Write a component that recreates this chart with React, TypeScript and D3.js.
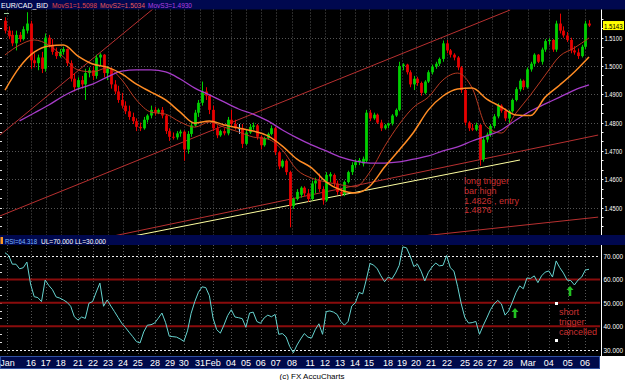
import React from 'react';
import * as d3 from 'd3';

// ---------- DATA ----------
// 6-hour bars: [open, high, low, close]
const candles: [number, number, number, number][] = [
  [1.5160,1.5172,1.5115,1.5125],[1.5125,1.5140,1.5095,1.5105],[1.5110,1.5125,1.5070,1.5080],[1.5080,1.5125,1.5055,1.5110],
  [1.5110,1.5120,1.5085,1.5095],[1.5095,1.5140,1.5090,1.5130],[1.5125,1.5190,1.5115,1.5150],[1.5150,1.5160,1.4990,1.5020],
  [1.5020,1.5045,1.4995,1.5010],[1.5010,1.5040,1.4985,1.5030],[1.5030,1.5050,1.4975,1.4990],[1.4990,1.5115,1.4980,1.5100],
  [1.5100,1.5110,1.5065,1.5075],[1.5075,1.5095,1.5040,1.5050],[1.5050,1.5065,1.5025,1.5035],[1.5035,1.5060,1.5030,1.5050],
  [1.5050,1.5068,1.5040,1.5060],[1.5060,1.5062,1.5000,1.5010],[1.5010,1.5020,1.4945,1.4955],[1.4955,1.4975,1.4910,1.4925],
  [1.4925,1.4960,1.4915,1.4950],[1.4950,1.4965,1.4920,1.4935],[1.4935,1.4990,1.4880,1.4975],[1.4975,1.4995,1.4960,1.4985],
  [1.4985,1.5000,1.4950,1.4965],[1.4965,1.5040,1.4955,1.5030],[1.5030,1.5045,1.5000,1.5040],[1.5040,1.5042,1.4960,1.4975],
  [1.4975,1.5000,1.4950,1.4990],[1.4990,1.4995,1.4920,1.4935],[1.4935,1.4950,1.4900,1.4910],[1.4910,1.4930,1.4870,1.4880],
  [1.4880,1.4905,1.4850,1.4860],[1.4860,1.4875,1.4830,1.4840],[1.4840,1.4860,1.4810,1.4820],[1.4820,1.4835,1.4795,1.4805],
  [1.4805,1.4815,1.4770,1.4785],[1.4785,1.4800,1.4770,1.4780],[1.4780,1.4820,1.4775,1.4810],[1.4810,1.4830,1.4800,1.4825],
  [1.4825,1.4860,1.4815,1.4845],[1.4845,1.4855,1.4825,1.4835],[1.4835,1.4850,1.4830,1.4845],[1.4845,1.4855,1.4815,1.4825],
  [1.4825,1.4830,1.4760,1.4770],[1.4770,1.4780,1.4735,1.4750],[1.4750,1.4765,1.4740,1.4748],[1.4748,1.4770,1.4740,1.4762],
  [1.4762,1.4775,1.4750,1.4768],[1.4768,1.4772,1.4665,1.4705],[1.4705,1.4770,1.4690,1.4760],[1.4760,1.4800,1.4750,1.4790],
  [1.4790,1.4845,1.4785,1.4835],[1.4835,1.4880,1.4820,1.4870],[1.4870,1.4945,1.4860,1.4910],[1.4910,1.4925,1.4880,1.4895],
  [1.4895,1.4900,1.4830,1.4845],[1.4845,1.4860,1.4770,1.4780],[1.4780,1.4790,1.4745,1.4755],[1.4755,1.4775,1.4750,1.4770],
  [1.4770,1.4780,1.4755,1.4762],[1.4762,1.4820,1.4755,1.4810],[1.4810,1.4845,1.4785,1.4795],[1.4795,1.4810,1.4775,1.4780],
  [1.4780,1.4795,1.4760,1.4780],[1.4780,1.4795,1.4710,1.4725],[1.4725,1.4775,1.4720,1.4765],[1.4765,1.4795,1.4760,1.4785],
  [1.4785,1.4800,1.4775,1.4790],[1.4790,1.4795,1.4740,1.4750],[1.4750,1.4755,1.4705,1.4720],[1.4720,1.4750,1.4715,1.4745],
  [1.4745,1.4765,1.4740,1.4760],[1.4760,1.4790,1.4755,1.4780],[1.4780,1.4785,1.4685,1.4695],[1.4695,1.4700,1.4635,1.4645],
  [1.4645,1.4670,1.4640,1.4665],[1.4665,1.4670,1.4615,1.4625],[1.4625,1.4630,1.4430,1.4505],[1.4505,1.4535,1.4495,1.4530],
  [1.4530,1.4565,1.4525,1.4555],[1.4545,1.4575,1.4535,1.4570],[1.4570,1.4575,1.4540,1.4550],[1.4550,1.4565,1.4520,1.4530],
  [1.4530,1.4595,1.4525,1.4585],[1.4585,1.4605,1.4550,1.4595],[1.4595,1.4620,1.4555,1.4565],[1.4565,1.4575,1.4510,1.4525],
  [1.4525,1.4625,1.4520,1.4615],[1.4610,1.4625,1.4590,1.4618],[1.4615,1.4620,1.4575,1.4585],[1.4585,1.4595,1.4545,1.4555],
  [1.4555,1.4565,1.4540,1.4548],[1.4548,1.4595,1.4540,1.4590],[1.4590,1.4630,1.4585,1.4625],[1.4625,1.4660,1.4615,1.4650],
  [1.4650,1.4670,1.4640,1.4660],[1.4660,1.4675,1.4650,1.4668],[1.4655,1.4680,1.4645,1.4672],[1.4665,1.4845,1.4660,1.4835],
  [1.4835,1.4845,1.4805,1.4815],[1.4815,1.4835,1.4810,1.4828],[1.4828,1.4832,1.4795,1.4800],[1.4800,1.4810,1.4770,1.4780],
  [1.4780,1.4795,1.4775,1.4790],[1.4790,1.4800,1.4780,1.4797],[1.4797,1.4830,1.4790,1.4825],[1.4825,1.4850,1.4820,1.4845],
  [1.4845,1.5015,1.4840,1.5000],[1.5000,1.5010,1.4985,1.5005],[1.5005,1.5008,1.4970,1.4978],[1.4978,1.4985,1.4925,1.4935],
  [1.4935,1.4965,1.4915,1.4955],[1.4955,1.4962,1.4930,1.4940],[1.4940,1.4945,1.4895,1.4905],[1.4905,1.4950,1.4900,1.4945],
  [1.4945,1.4985,1.4940,1.4978],[1.4978,1.5005,1.4970,1.4998],[1.4998,1.5015,1.4990,1.5008],[1.5008,1.5030,1.5000,1.5025],
  [1.5025,1.5090,1.5015,1.5080],[1.5080,1.5092,1.5045,1.5055],[1.5055,1.5060,1.5030,1.5040],[1.5040,1.5045,1.5020,1.5030],
  [1.5030,1.5035,1.4985,1.4995],[1.4995,1.5000,1.4905,1.4915],[1.4915,1.4920,1.4790,1.4800],[1.4800,1.4805,1.4770,1.4780],
  [1.4780,1.4795,1.4770,1.4775],[1.4775,1.4800,1.4770,1.4792],[1.4792,1.4795,1.4648,1.4670],[1.4670,1.4750,1.4662,1.4740],
  [1.4740,1.4765,1.4730,1.4758],[1.4758,1.4795,1.4750,1.4788],[1.4788,1.4830,1.4780,1.4822],[1.4822,1.4868,1.4815,1.4860],
  [1.4860,1.4865,1.4835,1.4842],[1.4842,1.4850,1.4805,1.4815],[1.4815,1.4845,1.4795,1.4840],[1.4840,1.4885,1.4835,1.4880],
  [1.4880,1.4925,1.4875,1.4918],[1.4918,1.4955,1.4910,1.4948],[1.4948,1.4952,1.4915,1.4925],[1.4925,1.4995,1.4920,1.4988],
  [1.4988,1.5015,1.4980,1.5008],[1.5008,1.5045,1.5000,1.5040],[1.5040,1.5042,1.5010,1.5015],[1.5015,1.5065,1.5005,1.5058],
  [1.5058,1.5095,1.5050,1.5088],[1.5088,1.5098,1.5075,1.5092],[1.5092,1.5095,1.5050,1.5058],[1.5058,1.5160,1.5050,1.5150],
  [1.5150,1.5185,1.5115,1.5125],[1.5125,1.5140,1.5100,1.5108],[1.5108,1.5120,1.5085,1.5092],[1.5092,1.5100,1.5045,1.5055],
  [1.5055,1.5070,1.5040,1.5048],[1.5048,1.5062,1.5025,1.5035],[1.5035,1.5075,1.5030,1.5068],[1.5068,1.5160,1.5060,1.5150],
  [1.5150,1.5162,1.5138,1.5143],
];

// moving averages, read every 4th bar
const movS1 = [1.5039,1.5074,1.5092,1.5074,1.5032,1.4986,1.4979,1.4993,1.4951,1.4880,1.4837,1.4830,1.4802,1.4784,1.4802,1.4784,1.4767,1.4749,1.4742,1.4703,1.4633,1.4604,1.4590,1.4580,1.4573,1.4626,1.4716,1.4794,1.4855,1.4890,1.4951,1.4975,1.4922,1.4784,1.4763,1.4834,1.4898,1.4968,1.5035,1.5064,1.5099];
const movS2 = [1.4915,1.4996,1.5049,1.5071,1.5074,1.5035,1.5007,1.4996,1.4972,1.4936,1.4908,1.4880,1.4837,1.4798,1.4806,1.4792,1.4781,1.4770,1.4753,1.4717,1.4671,1.4640,1.4590,1.4562,1.4551,1.4576,1.4643,1.4703,1.4767,1.4845,1.4894,1.4919,1.4922,1.4883,1.4855,1.4827,1.4825,1.4890,1.4933,1.4979,1.5032];
const movS3 = [1.4806,1.4834,1.4862,1.4894,1.4919,1.4936,1.4961,1.4982,1.4986,1.4986,1.4979,1.4954,1.4922,1.4898,1.4873,1.4848,1.4830,1.4806,1.4774,1.4746,1.4721,1.4700,1.4678,1.4664,1.4657,1.4657,1.4661,1.4671,1.4682,1.4700,1.4714,1.4735,1.4753,1.4774,1.4809,1.4841,1.4866,1.4890,1.4915,1.4933];

// RSI per bar
const rsi = [
  71.4,70.2,66.5,66.5,64.5,65,67.4,58,52.6,52.2,50.5,59.7,57.4,55.6,52.5,52,51.2,50.2,48.5,44,
  42.6,43.9,43.3,49.8,50.5,54.6,58.4,48.5,51.2,48.6,46.2,43.7,41.2,39.4,37.4,35.5,33.4,32.8,37.5,40.4,
  40.6,41.3,43.4,45.6,41.5,35.7,35.5,35.3,34.5,33.5,38,45.5,50.5,54.5,56.8,56.5,53,43.4,38.5,37,
  40.5,44.5,47,43.9,43.6,43.2,39.5,45.6,46,42,41.2,43.5,44.7,44,45,36.5,36.8,35.4,31.3,28.6,
  31.9,34.5,36.8,35.3,34.9,38.5,41,36.5,46.2,46.5,46,45,42,40.4,42,48.6,50,54.4,53.8,60,
  66.8,66.1,64.5,61.5,59,61,60.2,62.7,66,73.9,73.5,70,65.5,66.5,63.5,59.3,63,65.3,67,65.8,
  66,70.2,65,63.5,57,49.5,43.6,41.3,41.5,42,36.5,40.2,43.5,47,49.5,51,49.5,44.7,46.5,50.3,
  54.3,57.2,56,60.6,60.4,61.5,58.6,61.5,63.1,63.6,61,67.9,65,62.7,59.7,59.5,57.6,59.7,61,64,64.318,
];

const dayLabels = ['Jan','16','17','18','21','22','23','24','25','28','29','30','31','Feb','04','05','06','07','08','11','12','13','14','15','18','19','20','21','22','25','26','27','28','Mar','04','05','06'];
const dayBars = [0.5,7.1,11.2,15.3,20,24.1,28.2,32.3,36.4,41.1,45.2,49,53.4,57,61.9,66,70.1,74.2,78.6,83.6,87.7,91.8,95.9,99.7,104.9,108.8,112.6,116.7,121.1,126,129.6,133.4,137.8,143.3,149,154.2,158.9];

const priceTicks = [1.51,1.50,1.49,1.48,1.47,1.46,1.45];
const rsiTicks = [70,60,50,40,30];
const rsiBands = [60,50,40];
const rsiLimits = [70,30];

// trend lines: [bar1, price1, bar2, price2]
const redLines: [number, number, number, number][] = [
  [-1.4,1.4756,40.5,1.5201],
  [-1.4,1.4470,138.4,1.5198],
  [29.6,1.4399,162.5,1.4756],
  [114.2,1.4399,162.5,1.4466],
];
const yellowLine: [number, number, number, number] = [35.1,1.4399,141.1,1.4668];

const lastPrice = 1.5143;

// ---------- LAYOUT ----------
const W = 625, H = 380;
const PR = 600; // right edge of plot
const MAIN_T = 9.5, MAIN_B = 235;
const RSI_T = 245, RSI_B = 356;
const FONT = "Arial, 'Liberation Sans', sans-serif";

// narrow axis label drawn with a horizontal squeeze
function AxisLabel({ x, y, text, fill = '#fff', sx = 0.72 }: { x: number; y: number; text: string; fill?: string; sx?: number }) {
  return (
    <text transform={`translate(${x},${y}) scale(${sx},1)`} fontSize={8} fill={fill}>{text}</text>
  );
}

export default function App() {
  const n = candles.length;
  const x = d3.scaleLinear().domain([0, n - 1]).range([5, 589]);
  const y = d3.scaleLinear().domain([1.44, 1.52]).range([235.8, 9.4]);
  const yr = d3.scaleLinear().domain([30, 70]).range([349.5, 256]);

  const maLine = (off: number) =>
    d3.line<number>().x((_, k) => x(off + k * 4)).y((d) => y(d)).curve(d3.curveMonotoneX);
  const rsiLine = d3.line<number>().x((_, k) => x(k)).y((d) => yr(d));

  const minorMain = d3.range(1.44, 1.52, 0.01 / 3);
  const minorRsi = d3.range(30, 72, 10 / 3);
  const fit = { lengthAdjust: 'spacingAndGlyphs' as const };

  return (
    <svg width={W} height={H} style={{ position: 'absolute', left: 0, top: 0, display: 'block', background: '#fff' }}
      fontFamily={FONT}>
      <defs>
        <clipPath id="mainClip"><rect x={0} y={MAIN_T} width={PR} height={MAIN_B - MAIN_T} /></clipPath>
        <clipPath id="rsiClip"><rect x={0} y={RSI_T} width={PR} height={RSI_B - RSI_T} /></clipPath>
      </defs>
      {/* backgrounds */}
      <rect x={0} y={0} width={W} height={RSI_B} fill="#000" />
      <rect x={0} y={0} width={W} height={MAIN_T} fill="#00084f" />
      <rect x={0} y={MAIN_B} width={W} height={RSI_T - MAIN_B} fill="#00084f" />
      <rect x={0.5} y={RSI_B + 0.5} width={PR - 1} height={12} fill="#000a4a" stroke="#3050a0" strokeWidth={1} />

      {/* title */}
      <g fontSize={7.5}>
        <text x={1} y={7.6} fill="#ffffff" textLength={47} {...fit}>EUR/CAD_BID</text>
        <text x={52} y={7.6} fill="#e04848" textLength={45} {...fit}>MovS1=1.5098</text>
        <text x={100} y={7.6} fill="#e85a5a" textLength={45} {...fit}>MovS2=1.5034</text>
        <text x={148} y={7.6} fill="#b040e0" textLength={44} {...fit}>MovS3=1.4930</text>
      </g>

      {/* main grid */}
      <g stroke="#555" strokeWidth={1} strokeDasharray="1,2">
        {priceTicks.map((p) => <line key={p} x1={0} x2={PR} y1={Math.round(y(p)) + 0.5} y2={Math.round(y(p)) + 0.5} />)}
        {dayBars.map((b, k) => <line key={k} x1={Math.round(x(b)) + 0.5} x2={Math.round(x(b)) + 0.5} y1={MAIN_T} y2={MAIN_B} />)}
      </g>
      {/* left edge minor ticks */}
      <g stroke="#ddd">
        {minorMain.filter((p) => y(p) > MAIN_T + 1 && y(p) < MAIN_B).map((p, k) =>
          <line key={k} x1={0} x2={2} y1={Math.round(y(p)) + 0.5} y2={Math.round(y(p)) + 0.5} />)}
      </g>
      <line x1={4} x2={9} y1={13.5} y2={13.5} stroke="#9c9" />

      <g clipPath="url(#mainClip)">
        {/* trend lines */}
        {redLines.map((l, k) => (
          <line key={k} x1={x(l[0])} y1={y(l[1])} x2={x(l[2])} y2={y(l[3])} stroke="#b83030" strokeWidth={1} />
        ))}
        <line x1={x(yellowLine[0])} y1={y(yellowLine[1])} x2={x(yellowLine[2])} y2={y(yellowLine[3])} stroke="#ffffa0" strokeWidth={1} />

        {/* candles */}
        {candles.map((c, i) => {
          const [o, h, l, cl] = c;
          const col = cl > o ? '#00d000' : cl < o ? '#e80000' : '#9ad8ff';
          const cx = Math.round(x(i)) + 0.5;
          const top = y(Math.max(o, cl));
          const bot = y(Math.min(o, cl));
          return (
            <g key={i}>
              <line x1={cx} x2={cx} y1={y(h)} y2={y(l)} stroke={col} strokeWidth={1} />
              <rect x={cx - 1.4} y={top} width={2.8} height={Math.max(1, bot - top)} fill={col} />
            </g>
          );
        })}

        {/* moving averages */}
        <path d={maLine(0)(movS1) || ''} fill="none" stroke="#b83a22" strokeWidth={1} />
        <path d={maLine(4)(movS3) || ''} fill="none" stroke="#a63cc8" strokeWidth={1.3} />
        <path d={maLine(0)(movS2) || ''} fill="none" stroke="#ff8c24" strokeWidth={1.5} />
      </g>

      {/* annotation main */}
      <g fill="#cc3030" fontSize={9}>
        <text x={464} y={184}>long trigger</text>
        <text x={464} y={194}>bar high</text>
        <text x={464} y={203.5}>1.4826 , entry</text>
        <text x={464} y={213}>1.4876</text>
      </g>

      {/* right price axis */}
      <line x1={PR + 1.5} x2={PR + 1.5} y1={MAIN_T} y2={MAIN_B} stroke="#fff" />
      <g stroke="#fff">
        {minorMain.filter((p) => y(p) > MAIN_T && y(p) < MAIN_B).map((p, k) =>
          <line key={k} x1={PR + 1.5} x2={PR + 3.5} y1={Math.round(y(p)) + 0.5} y2={Math.round(y(p)) + 0.5} />)}
      </g>
      {priceTicks.map((p) => <AxisLabel key={p} x={604.5} y={y(p) + 3} text={p.toFixed(4)} />)}
      <rect x={603} y={y(lastPrice) - 4.5} width={21} height={9} fill="#ffff00" />
      <AxisLabel x={604} y={y(lastPrice) + 3} text={lastPrice.toFixed(4)} fill="#000" sx={0.76} />

      {/* RSI header */}
      <rect x={0.5} y={237} width={2.5} height={7} fill="#ff9a20" />
      <g fontSize={7.5}>
        <text x={5} y={243.5} fill="#7cb8ff" textLength={32} {...fit}>RSI=64.318</text>
        <text x={41} y={243.5} fill="#ffffff" textLength={65} {...fit}>UL=70.000 LL=30.000</text>
      </g>

      {/* RSI grid */}
      <g stroke="#555" strokeWidth={1} strokeDasharray="1,2">
        {dayBars.map((b, k) => <line key={k} x1={Math.round(x(b)) + 0.5} x2={Math.round(x(b)) + 0.5} y1={RSI_T} y2={RSI_B} />)}
      </g>
      <g stroke="#ddd">
        {minorRsi.filter((v) => yr(v) > RSI_T && yr(v) < RSI_B).map((v, k) =>
          <line key={k} x1={0} x2={2} y1={Math.round(yr(v)) + 0.5} y2={Math.round(yr(v)) + 0.5} />)}
      </g>
      {rsiBands.map((v) => (
        <line key={v} x1={0} x2={PR} y1={yr(v)} y2={yr(v)} stroke="#8a0c0c" strokeWidth={2} />
      ))}
      {rsiLimits.map((v) => (
        <line key={v} x1={0} x2={PR} y1={Math.round(yr(v)) + 0.5} y2={Math.round(yr(v)) + 0.5} stroke="#eee" strokeDasharray="2,2" />
      ))}
      <g clipPath="url(#rsiClip)">
        <path d={rsiLine(rsi) || ''} fill="none" stroke="#66d4d0" strokeWidth={1} />
      </g>

      {/* RSI annotations */}
      <rect x={555} y={302} width={3} height={3} fill="#fff" />
      <rect x={555} y={339} width={3} height={3} fill="#fff" />
      <g fill="#cc3030" fontSize={9}>
        <text x={559} y={315}>short</text>
        <text x={559} y={325}>trigger</text>
        <text x={559} y={335}>cancelled</text>
      </g>
      <g fill="#22c022">
        <path d="M515,308 L518.5,312 L516.3,312 L516.3,318 L513.7,318 L513.7,312 L511.5,312 Z" />
        <path d="M570,286 L573.5,290 L571.3,290 L571.3,296 L568.7,296 L568.7,290 L566.5,290 Z" />
      </g>

      {/* RSI axis */}
      <line x1={PR + 1.5} x2={PR + 1.5} y1={RSI_T} y2={RSI_B} stroke="#fff" />
      {rsiTicks.map((v) => <AxisLabel key={v} x={603.5} y={yr(v) + 3} text={v.toFixed(3)} sx={0.8} />)}

      {/* date labels */}
      <g fill="#fff" fontSize={9} textAnchor="middle">
        {dayLabels.map((lab, k) => <text key={k} x={lab === 'Jan' ? 7.5 : x(dayBars[k])} y={366}>{lab}</text>)}
      </g>

      <text x={312} y={379} fontSize={8} textAnchor="middle" fill="#000">(c) FX AccuCharts</text>
    </svg>
  );
}
